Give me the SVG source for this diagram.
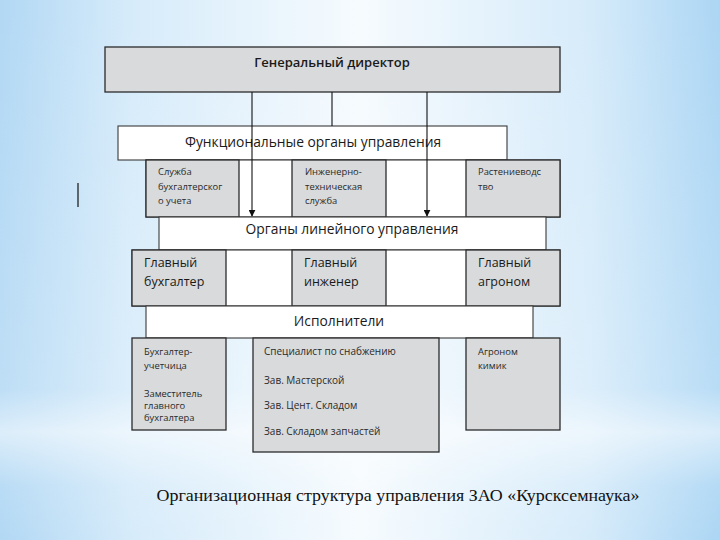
<svg xmlns="http://www.w3.org/2000/svg" width="720" height="540" viewBox="0 0 720 540">
<defs>
<linearGradient id="bgH" x1="0" y1="0" x2="1" y2="0">
<stop offset="0" stop-color="#b2d8f4"/>
<stop offset="0.18" stop-color="#d6ebfa"/>
<stop offset="0.5" stop-color="#f6fbfe"/>
<stop offset="0.82" stop-color="#d6ebfa"/>
<stop offset="1" stop-color="#acd6f4"/>
</linearGradient>
<linearGradient id="bgV" x1="0" y1="0" x2="0" y2="1">
<stop offset="0" stop-color="#ffffff" stop-opacity="0"/>
<stop offset="0.72" stop-color="#ffffff" stop-opacity="0.15"/>
<stop offset="0.8" stop-color="#ffffff" stop-opacity="0.55"/>
<stop offset="0.9" stop-color="#ffffff" stop-opacity="0.1"/>
<stop offset="1" stop-color="#ffffff" stop-opacity="0"/>
</linearGradient>
<marker id="arr" viewBox="0 0 10 10" refX="9" refY="5" markerWidth="7" markerHeight="7" orient="auto" markerUnits="userSpaceOnUse">
<path d="M0,0 L10,5 L0,10 z" fill="#111"/>
</marker>
</defs>
<style>
.g{fill:#d8dadc;stroke:#2b2b2b;stroke-width:1.3}
.w{fill:#ffffff;stroke:#3a3a3a;stroke-width:1.1}
.t{font-family:"Open Sans","Liberation Sans",sans-serif;fill:#1a1a1a}
.big{font-size:12.5px}
.hd{font-size:13px;font-weight:600}
.lg{font-size:13.8px}
.sm{font-size:9.4px;fill:#2a2a2a}
.md{font-size:10px;fill:#2a2a2a}
.c{text-anchor:middle}
.cn{stroke:#111;stroke-width:1.1;fill:none}
</style>
<rect x="0" y="0" width="720" height="540" fill="url(#bgH)"/>
<rect x="0" y="0" width="720" height="540" fill="url(#bgV)"/>

<line x1="78" y1="183" x2="78" y2="207" stroke="#111" stroke-width="1.2"/>

<g id="gen-director">
<rect class="g" x="105" y="47" width="455" height="45"/>
<text class="t hd c" x="332" y="67">Генеральный директор</text>
</g>

<g id="functional">
<rect class="w" x="118" y="126" width="389" height="34"/>
<text class="t lg c" x="313" y="147">Функциональные органы управления</text>
</g>

<g id="row1">
<rect class="w" x="146" y="160" width="414" height="57"/>
<g id="sluzhba-buh">
<rect class="g" x="146" y="160" width="93" height="57"/>
<text class="t sm" x="158" y="175">Служба</text>
<text class="t sm" x="158" y="190">бухгалтерског</text>
<text class="t sm" x="158" y="204">о учета</text>
</g>
<g id="inzh-tech">
<rect class="g" x="292" y="160" width="94" height="57"/>
<text class="t sm" x="305" y="175">Инженерно-</text>
<text class="t sm" x="305" y="190">техническая</text>
<text class="t sm" x="305" y="204">служба</text>
</g>
<g id="rastenievod">
<rect class="g" x="466" y="160" width="94" height="57"/>
<text class="t sm" x="478" y="175">Растениеводс</text>
<text class="t sm" x="478" y="190">тво</text>
</g>
</g>

<g id="linear">
<rect class="w" x="159" y="217" width="387" height="33"/>
<text class="t lg c" x="352" y="234">Органы линейного управления</text>
</g>

<g id="row2">
<rect class="w" x="132" y="250" width="428" height="56"/>
<g id="glav-buh">
<rect class="g" x="132" y="250" width="94" height="56"/>
<text class="t big" x="144" y="267">Главный</text>
<text class="t big" x="144" y="286">бухгалтер</text>
</g>
<g id="glav-inzh">
<rect class="g" x="292" y="250" width="94" height="56"/>
<text class="t big" x="304" y="267">Главный</text>
<text class="t big" x="304" y="286">инженер</text>
</g>
<g id="glav-agr">
<rect class="g" x="466" y="250" width="94" height="56"/>
<text class="t big" x="478" y="267">Главный</text>
<text class="t big" x="478" y="286">агроном</text>
</g>
</g>

<g id="ispolniteli">
<rect class="w" x="146" y="306" width="387" height="32"/>
<text class="t lg c" x="339" y="326">Исполнители</text>
</g>

<g id="buh-staff">
<rect class="g" x="132" y="338" width="94" height="92"/>
<text class="t sm" x="144" y="355">Бухгалтер-</text>
<text class="t sm" x="144" y="369">учетчица</text>
<text class="t sm" x="144" y="397">Заместитель</text>
<text class="t sm" x="144" y="409">главного</text>
<text class="t sm" x="144" y="421">бухгалтера</text>
</g>

<g id="eng-staff">
<rect class="g" x="253" y="338" width="186" height="114"/>
<text class="t md" x="264" y="355">Специалист по снабжению</text>
<text class="t md" x="264" y="384">Зав. Мастерской</text>
<text class="t md" x="264" y="409">Зав. Цент. Складом</text>
<text class="t md" x="264" y="435">Зав. Складом запчастей</text>
</g>

<g id="agr-staff">
<rect class="g" x="466" y="338" width="94" height="92"/>
<text class="t sm" x="478" y="355">Агроном</text>
<text class="t sm" x="478" y="369">кимик</text>
</g>

<g id="connectors">
<line class="cn" x1="252" y1="92" x2="252" y2="216" marker-end="url(#arr)"/>
<line class="cn" x1="332" y1="92" x2="332" y2="126"/>
<line class="cn" x1="427" y1="92" x2="427" y2="216" marker-end="url(#arr)"/>
</g>

<text x="398" y="501" text-anchor="middle" font-family="'Liberation Serif','Times New Roman',serif" font-size="17" fill="#111" textLength="483" lengthAdjust="spacingAndGlyphs">Организационная структура управления ЗАО «Курсксемнаука»</text>
</svg>
